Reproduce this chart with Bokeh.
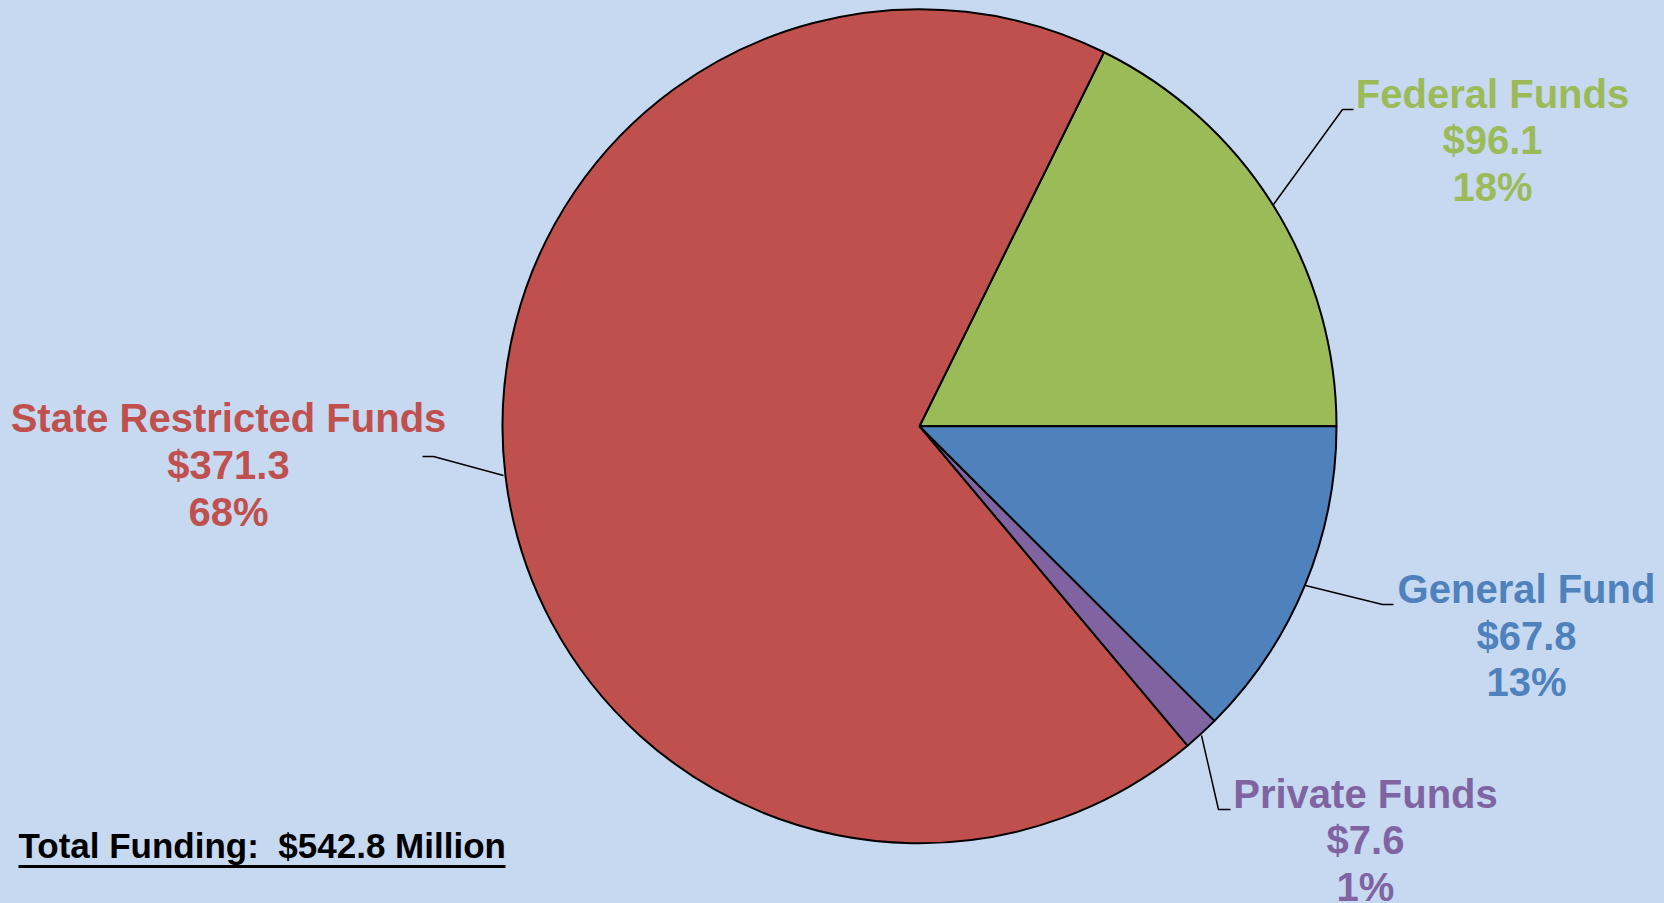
import math
from bokeh.plotting import figure
from bokeh.models import Range1d, ColumnDataSource
from bokeh.core.properties import value
from bokeh.embed import file_html
from bokeh.resources import INLINE

# ---- data ----
categories = ["Federal Funds", "State Restricted Funds", "Private Funds", "General Fund"]
amounts = [96.1, 371.3, 7.6, 67.8]          # $ millions
pct_labels = [18, 68, 1, 13]                 # % as printed
colors = ["#9bbb59", "#c0504d", "#8064a2", "#4f81bd"]
total_label = "Total Funding:\u00a0 $542.8 Million"

# ---- layout (reference pixel coordinates) ----
W, H = 1664, 903
BG = "#c6d9f1"
center = (919, 425.7)
radius = 417
TXT_SHIFT = 15.5   # compensation of renderer baseline offset
# label anchor: center x, baselines of the three lines
label_pos = [
    (1492, [109, 155, 202]),
    (228, [433, 480, 526.5]),
    (1365, [809, 855, 901.5]),
    (1526, [604, 651, 697]),
]
leaders = [
    [(1353, 109), (1342, 109), (1273, 204)],
    [(422, 456), (433, 456), (503, 475)],
    [(1230, 809), (1218, 809), (1201, 735)],
    [(1393, 604), (1382, 604), (1305, 585)],
]

def Y(y):
    return H - y

def YT(y):
    return H - (y - TXT_SHIFT)

p = figure(width=W, height=H, output_backend="svg", toolbar_location=None,
           x_range=Range1d(0, W), y_range=Range1d(0, H),
           min_border=0, outline_line_color=None,
           background_fill_color=BG, border_fill_color=BG)
p.axis.visible = False
p.grid.visible = False

total = sum(amounts)
starts, ends = [], []
acc = 0.0
for a in amounts:
    starts.append(2 * math.pi * acc / total)
    acc += a
    ends.append(2 * math.pi * acc / total)

src = ColumnDataSource(dict(start=starts, end=ends, color=colors, cat=categories,
                            x=[center[0]] * 4, y=[Y(center[1])] * 4))
p.wedge(x="x", y="y", radius=radius, start_angle="start", end_angle="end",
        fill_color="color", line_color="black", line_width=2, source=src)

# leader lines
for pts in leaders:
    p.line([q[0] for q in pts], [Y(q[1]) for q in pts], line_color="black", line_width=1.5)

# labels
for cat, amt, pct, col, (lx, bls) in zip(categories, amounts, pct_labels, colors, label_pos):
    lines = [cat, "$%.1f" % amt, "%d%%" % pct]
    p.text(x=[lx] * 3, y=[YT(b) for b in bls], text=lines, text_color=col,
           text_font=value("Liberation Sans"), text_font_style="bold",
           text_font_size="40px", text_align="center", text_baseline="alphabetic")

# total funding text with underline
p.text(x=[18], y=[YT(860)], text=[total_label], text_color="black",
       text_font=value("Liberation Sans"), text_font_style="bold",
       text_font_size="35px", text_align="left", text_baseline="alphabetic")
p.line([18, 505], [Y(866), Y(866)], line_color="black", line_width=3)

html = file_html(p, INLINE)
style = "<style>html,body{margin:0;padding:0;background:%s;overflow:hidden;}</style>" % BG
html = html.replace("</head>", style + "</head>", 1)
open("out.html", "w").write(html)
